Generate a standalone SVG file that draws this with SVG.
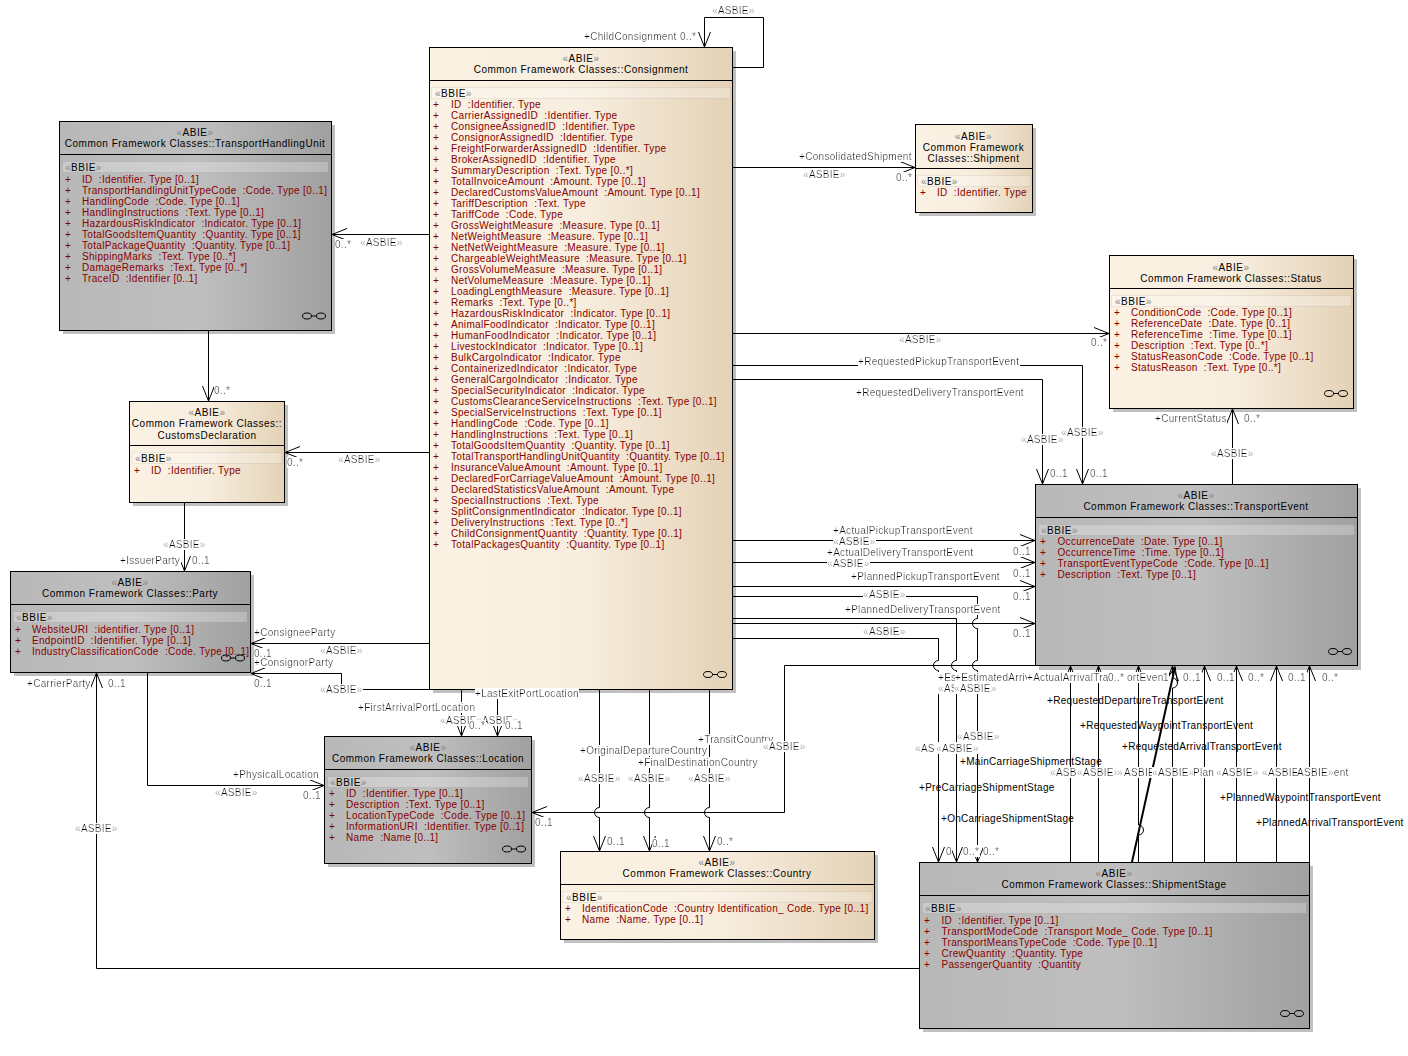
<svg xmlns="http://www.w3.org/2000/svg" width="1408" height="1056" viewBox="0 0 1408 1056">
<style>
text{font-family:"Liberation Sans",Arial,sans-serif;font-size:10px;letter-spacing:.5px;white-space:pre;fill:#000}
.a{fill:#860000;letter-spacing:.32px}
.q{fill:#a8a8a8}
g[id^=n-] .q{fill:#858585}
.c{text-anchor:middle}
.l{filter:url(#bg)}
#labels text,#labels2 text{letter-spacing:.3px}
.tan{fill:url(#gt);stroke:#000}
.gry{fill:url(#gg);stroke:#000}
.sh{fill:#c0c0c0}
.hl{stroke:#000;fill:none}
.bt{fill:#fff;fill-opacity:.25;stroke:#000;stroke-opacity:.06}
#conn path,#conn2 path{fill:none;stroke:#000;stroke-width:1}
#conn path.h,#conn2 path.h{marker-end:url(#v)}
#conn2 path.b{stroke-width:2}
</style>
<defs>
<linearGradient id="gt" x1="0" y1="0" x2="1" y2="0"><stop offset="0" stop-color="#fbf2e4"/><stop offset=".5" stop-color="#f8eedf"/><stop offset="1" stop-color="#e4d2b6"/></linearGradient>
<linearGradient id="gg" x1="0" y1="0" x2="1" y2="0"><stop offset="0" stop-color="#b8b8b8"/><stop offset=".5" stop-color="#bfbfbf"/><stop offset="1" stop-color="#a0a0a0"/></linearGradient>
<filter id="bg" x="0" y="0" width="1" height="1"><feFlood flood-color="#fff"/><feComposite in="SourceGraphic"/></filter>
<marker id="v" markerUnits="userSpaceOnUse" markerWidth="18" markerHeight="16" refX="15" refY="8" orient="auto"><path d="M0,2 L15,8 L0,14" fill="none" stroke="#000"/></marker>
<g id="gl" fill="none" stroke="#000"><ellipse cx="5" cy="0" rx="4.5" ry="3"/><ellipse cx="19" cy="0" rx="4.5" ry="3"/><path d="M9.5,0H14.5"/></g>
</defs>
<rect width="1408" height="1056" fill="#fff"/>

<g id="n-consignment">
<rect class="sh" x="433" y="51" width="303" height="642"/><rect class="tan" x="429.5" y="47.5" width="303" height="642"/><path class="hl" d="M429.5,80.5H732.5"/>
<text class="c" x="581" y="62"><tspan class="q">«</tspan>ABIE<tspan class="q">»</tspan></text><text class="c" x="581" y="73">Common Framework Classes::Consignment</text>
<rect class="bt" x="431.5" y="87.5" width="299" height="11"/><text x="435" y="97"><tspan class="q">«</tspan>BBIE<tspan class="q">»</tspan></text>
<text class="a" x="433" y="108">+</text><text class="a" x="451" y="108">ID  :Identifier. Type</text>
<text class="a" x="433" y="119">+</text><text class="a" x="451" y="119">CarrierAssignedID  :Identifier. Type</text>
<text class="a" x="433" y="130">+</text><text class="a" x="451" y="130">ConsigneeAssignedID  :Identifier. Type</text>
<text class="a" x="433" y="141">+</text><text class="a" x="451" y="141">ConsignorAssignedID  :Identifier. Type</text>
<text class="a" x="433" y="152">+</text><text class="a" x="451" y="152">FreightForwarderAssignedID  :Identifier. Type</text>
<text class="a" x="433" y="163">+</text><text class="a" x="451" y="163">BrokerAssignedID  :Identifier. Type</text>
<text class="a" x="433" y="174">+</text><text class="a" x="451" y="174">SummaryDescription  :Text. Type [0..*]</text>
<text class="a" x="433" y="185">+</text><text class="a" x="451" y="185">TotalInvoiceAmount  :Amount. Type [0..1]</text>
<text class="a" x="433" y="196">+</text><text class="a" x="451" y="196">DeclaredCustomsValueAmount  :Amount. Type [0..1]</text>
<text class="a" x="433" y="207">+</text><text class="a" x="451" y="207">TariffDescription  :Text. Type</text>
<text class="a" x="433" y="218">+</text><text class="a" x="451" y="218">TariffCode  :Code. Type</text>
<text class="a" x="433" y="229">+</text><text class="a" x="451" y="229">GrossWeightMeasure  :Measure. Type [0..1]</text>
<text class="a" x="433" y="240">+</text><text class="a" x="451" y="240">NetWeightMeasure  :Measure. Type [0..1]</text>
<text class="a" x="433" y="251">+</text><text class="a" x="451" y="251">NetNetWeightMeasure  :Measure. Type [0..1]</text>
<text class="a" x="433" y="262">+</text><text class="a" x="451" y="262">ChargeableWeightMeasure  :Measure. Type [0..1]</text>
<text class="a" x="433" y="273">+</text><text class="a" x="451" y="273">GrossVolumeMeasure  :Measure. Type [0..1]</text>
<text class="a" x="433" y="284">+</text><text class="a" x="451" y="284">NetVolumeMeasure  :Measure. Type [0..1]</text>
<text class="a" x="433" y="295">+</text><text class="a" x="451" y="295">LoadingLengthMeasure  :Measure. Type [0..1]</text>
<text class="a" x="433" y="306">+</text><text class="a" x="451" y="306">Remarks  :Text. Type [0..*]</text>
<text class="a" x="433" y="317">+</text><text class="a" x="451" y="317">HazardousRiskIndicator  :Indicator. Type [0..1]</text>
<text class="a" x="433" y="328">+</text><text class="a" x="451" y="328">AnimalFoodIndicator  :Indicator. Type [0..1]</text>
<text class="a" x="433" y="339">+</text><text class="a" x="451" y="339">HumanFoodIndicator  :Indicator. Type [0..1]</text>
<text class="a" x="433" y="350">+</text><text class="a" x="451" y="350">LivestockIndicator  :Indicator. Type [0..1]</text>
<text class="a" x="433" y="361">+</text><text class="a" x="451" y="361">BulkCargoIndicator  :Indicator. Type</text>
<text class="a" x="433" y="372">+</text><text class="a" x="451" y="372">ContainerizedIndicator  :Indicator. Type</text>
<text class="a" x="433" y="383">+</text><text class="a" x="451" y="383">GeneralCargoIndicator  :Indicator. Type</text>
<text class="a" x="433" y="394">+</text><text class="a" x="451" y="394">SpecialSecurityIndicator  :Indicator. Type</text>
<text class="a" x="433" y="405">+</text><text class="a" x="451" y="405">CustomsClearanceServiceInstructions  :Text. Type [0..1]</text>
<text class="a" x="433" y="416">+</text><text class="a" x="451" y="416">SpecialServiceInstructions  :Text. Type [0..1]</text>
<text class="a" x="433" y="427">+</text><text class="a" x="451" y="427">HandlingCode  :Code. Type [0..1]</text>
<text class="a" x="433" y="438">+</text><text class="a" x="451" y="438">HandlingInstructions  :Text. Type [0..1]</text>
<text class="a" x="433" y="449">+</text><text class="a" x="451" y="449">TotalGoodsItemQuantity  :Quantity. Type [0..1]</text>
<text class="a" x="433" y="460">+</text><text class="a" x="451" y="460">TotalTransportHandlingUnitQuantity  :Quantity. Type [0..1]</text>
<text class="a" x="433" y="471">+</text><text class="a" x="451" y="471">InsuranceValueAmount  :Amount. Type [0..1]</text>
<text class="a" x="433" y="482">+</text><text class="a" x="451" y="482">DeclaredForCarriageValueAmount  :Amount. Type [0..1]</text>
<text class="a" x="433" y="493">+</text><text class="a" x="451" y="493">DeclaredStatisticsValueAmount  :Amount. Type</text>
<text class="a" x="433" y="504">+</text><text class="a" x="451" y="504">SpecialInstructions  :Text. Type</text>
<text class="a" x="433" y="515">+</text><text class="a" x="451" y="515">SplitConsignmentIndicator  :Indicator. Type [0..1]</text>
<text class="a" x="433" y="526">+</text><text class="a" x="451" y="526">DeliveryInstructions  :Text. Type [0..*]</text>
<text class="a" x="433" y="537">+</text><text class="a" x="451" y="537">ChildConsignmentQuantity  :Quantity. Type [0..1]</text>
<text class="a" x="433" y="548">+</text><text class="a" x="451" y="548">TotalPackagesQuantity  :Quantity. Type [0..1]</text>
<use href="#gl" x="703" y="674.5"/>
</g>

<g id="n-shipment">
<rect class="sh" x="919" y="128" width="117" height="88"/><rect class="tan" x="915.5" y="124.5" width="117" height="88"/><path class="hl" d="M915.5,168.5H1032.5"/>
<text class="c" x="973.5" y="139.5"><tspan class="q">«</tspan>ABIE<tspan class="q">»</tspan></text><text class="c" x="973.5" y="150.5">Common Framework</text><text class="c" x="973.5" y="161.5">Classes::Shipment</text>
<rect class="bt" x="917.5" y="175.5" width="113" height="11"/><text x="921" y="185"><tspan class="q">«</tspan>BBIE<tspan class="q">»</tspan></text>
<text class="a" x="920" y="196">+</text><text class="a" x="937" y="196">ID  :Identifier. Type</text>
</g>

<g id="n-status">
<rect class="sh" x="1113" y="259" width="244" height="153"/><rect class="tan" x="1109.5" y="255.5" width="244" height="153"/><path class="hl" d="M1109.5,288.5H1353.5"/>
<text class="c" x="1231" y="271"><tspan class="q">«</tspan>ABIE<tspan class="q">»</tspan></text><text class="c" x="1231" y="282">Common Framework Classes::Status</text>
<rect class="bt" x="1111.5" y="295.5" width="240" height="11"/><text x="1115" y="305"><tspan class="q">«</tspan>BBIE<tspan class="q">»</tspan></text>
<text class="a" x="1114" y="316">+</text><text class="a" x="1131" y="316">ConditionCode  :Code. Type [0..1]</text>
<text class="a" x="1114" y="327">+</text><text class="a" x="1131" y="327">ReferenceDate  :Date. Type [0..1]</text>
<text class="a" x="1114" y="338">+</text><text class="a" x="1131" y="338">ReferenceTime  :Time. Type [0..1]</text>
<text class="a" x="1114" y="349">+</text><text class="a" x="1131" y="349">Description  :Text. Type [0..*]</text>
<text class="a" x="1114" y="360">+</text><text class="a" x="1131" y="360">StatusReasonCode  :Code. Type [0..1]</text>
<text class="a" x="1114" y="371">+</text><text class="a" x="1131" y="371">StatusReason  :Text. Type [0..*]</text>
<use href="#gl" x="1324" y="393.5"/>
</g>

<g id="n-transporthandlingunit">
<rect class="sh" x="63" y="125" width="272" height="209"/><rect class="gry" x="59.5" y="121.5" width="272" height="209"/><path class="hl" d="M59.5,154.5H331.5"/>
<text class="c" x="195" y="136"><tspan class="q">«</tspan>ABIE<tspan class="q">»</tspan></text><text class="c" x="195" y="147">Common Framework Classes::TransportHandlingUnit</text>
<rect class="bt" x="62.5" y="161.5" width="266" height="11"/><text x="65" y="171"><tspan class="q">«</tspan>BBIE<tspan class="q">»</tspan></text>
<text class="a" x="65" y="182.5">+</text><text class="a" x="82" y="182.5">ID  :Identifier. Type [0..1]</text>
<text class="a" x="65" y="193.5">+</text><text class="a" x="82" y="193.5">TransportHandlingUnitTypeCode  :Code. Type [0..1]</text>
<text class="a" x="65" y="204.5">+</text><text class="a" x="82" y="204.5">HandlingCode  :Code. Type [0..1]</text>
<text class="a" x="65" y="215.5">+</text><text class="a" x="82" y="215.5">HandlingInstructions  :Text. Type [0..1]</text>
<text class="a" x="65" y="226.5">+</text><text class="a" x="82" y="226.5">HazardousRiskIndicator  :Indicator. Type [0..1]</text>
<text class="a" x="65" y="237.5">+</text><text class="a" x="82" y="237.5">TotalGoodsItemQuantity  :Quantity. Type [0..1]</text>
<text class="a" x="65" y="248.5">+</text><text class="a" x="82" y="248.5">TotalPackageQuantity  :Quantity. Type [0..1]</text>
<text class="a" x="65" y="259.5">+</text><text class="a" x="82" y="259.5">ShippingMarks  :Text. Type [0..*]</text>
<text class="a" x="65" y="270.5">+</text><text class="a" x="82" y="270.5">DamageRemarks  :Text. Type [0..*]</text>
<text class="a" x="65" y="281.5">+</text><text class="a" x="82" y="281.5">TraceID  :Identifier [0..1]</text>
<use href="#gl" x="302" y="316"/>
</g>

<g id="n-customsdeclaration">
<rect class="sh" x="133" y="405" width="155" height="101"/><rect class="tan" x="129.5" y="401.5" width="155" height="101"/><path class="hl" d="M129.5,445.5H284.5"/>
<text class="c" x="207" y="416"><tspan class="q">«</tspan>ABIE<tspan class="q">»</tspan></text><text class="c" x="207" y="427">Common Framework Classes::</text><text class="c" x="207" y="438.5">CustomsDeclaration</text>
<rect class="bt" x="132" y="452.5" width="150" height="11"/><text x="135" y="462"><tspan class="q">«</tspan>BBIE<tspan class="q">»</tspan></text>
<text class="a" x="134" y="473.5">+</text><text class="a" x="151" y="473.5">ID  :Identifier. Type</text>
</g>

<g id="n-party">
<rect class="sh" x="14" y="575" width="240" height="101"/><rect class="gry" x="10.5" y="571.5" width="240" height="101"/><path class="hl" d="M10.5,604.5H250.5"/>
<text class="c" x="130" y="586"><tspan class="q">«</tspan>ABIE<tspan class="q">»</tspan></text><text class="c" x="130" y="597">Common Framework Classes::Party</text>
<rect class="bt" x="13.5" y="611.5" width="234" height="11"/><text x="16" y="621"><tspan class="q">«</tspan>BBIE<tspan class="q">»</tspan></text>
<text class="a" x="15" y="632.5">+</text><text class="a" x="32" y="632.5">WebsiteURI  :identifier. Type [0..1]</text>
<text class="a" x="15" y="643.5">+</text><text class="a" x="32" y="643.5">EndpointID  :Identifier. Type [0..1]</text>
<text class="a" x="15" y="654.5">+</text><text class="a" x="32" y="654.5">IndustryClassificationCode  :Code. Type [0..1]</text>
<use href="#gl" x="221" y="658"/>
</g>

<g id="n-location">
<rect class="sh" x="328" y="740" width="207" height="127"/><rect class="gry" x="324.5" y="736.5" width="207" height="127"/><path class="hl" d="M324.5,769.5H531.5"/>
<text class="c" x="428" y="751"><tspan class="q">«</tspan>ABIE<tspan class="q">»</tspan></text><text class="c" x="428" y="762">Common Framework Classes::Location</text>
<rect class="bt" x="327.5" y="776.5" width="201" height="11"/><text x="330" y="786"><tspan class="q">«</tspan>BBIE<tspan class="q">»</tspan></text>
<text class="a" x="329" y="797">+</text><text class="a" x="346" y="797">ID  :Identifier. Type [0..1]</text>
<text class="a" x="329" y="808">+</text><text class="a" x="346" y="808">Description  :Text. Type [0..1]</text>
<text class="a" x="329" y="819">+</text><text class="a" x="346" y="819">LocationTypeCode  :Code. Type [0..1]</text>
<text class="a" x="329" y="830">+</text><text class="a" x="346" y="830">InformationURI  :Identifier. Type [0..1]</text>
<text class="a" x="329" y="841">+</text><text class="a" x="346" y="841">Name  :Name [0..1]</text>
<use href="#gl" x="502" y="849"/>
</g>

<g id="n-country">
<rect class="sh" x="564" y="855" width="314" height="88"/><rect class="tan" x="560.5" y="851.5" width="314" height="88"/><path class="hl" d="M560.5,884.5H874.5"/>
<text class="c" x="717" y="866"><tspan class="q">«</tspan>ABIE<tspan class="q">»</tspan></text><text class="c" x="717" y="877">Common Framework Classes::Country</text>
<rect class="bt" x="563" y="891.5" width="309" height="11"/><text x="566" y="901"><tspan class="q">«</tspan>BBIE<tspan class="q">»</tspan></text>
<text class="a" x="565" y="912">+</text><text class="a" x="582" y="912">IdentificationCode  :Country Identification_ Code. Type [0..1]</text>
<text class="a" x="565" y="923">+</text><text class="a" x="582" y="923">Name  :Name. Type [0..1]</text>
</g>

<g id="n-transportevent">
<rect class="sh" x="1039" y="488" width="322" height="182"/><rect class="gry" x="1035.5" y="484.5" width="322" height="181"/><path class="hl" d="M1035.5,517.5H1357.5"/>
<text class="c" x="1196" y="499"><tspan class="q">«</tspan>ABIE<tspan class="q">»</tspan></text><text class="c" x="1196" y="510">Common Framework Classes::TransportEvent</text>
<rect class="bt" x="1038.5" y="524.5" width="316" height="11"/><text x="1041" y="534"><tspan class="q">«</tspan>BBIE<tspan class="q">»</tspan></text>
<text class="a" x="1040" y="545">+</text><text class="a" x="1057.5" y="545">OccurrenceDate  :Date. Type [0..1]</text>
<text class="a" x="1040" y="556">+</text><text class="a" x="1057.5" y="556">OccurrenceTime  :Time. Type [0..1]</text>
<text class="a" x="1040" y="567">+</text><text class="a" x="1057.5" y="567">TransportEventTypeCode  :Code. Type [0..1]</text>
<text class="a" x="1040" y="578">+</text><text class="a" x="1057.5" y="578">Description  :Text. Type [0..1]</text>
<use href="#gl" x="1328" y="651.5"/>
</g>

<g id="n-shipmentstage">
<rect class="sh" x="923" y="866" width="390" height="166"/><rect class="gry" x="919.5" y="862.5" width="390" height="166"/><path class="hl" d="M919.5,895.5H1309.5"/>
<text class="c" x="1114" y="877"><tspan class="q">«</tspan>ABIE<tspan class="q">»</tspan></text><text class="c" x="1114" y="888">Common Framework Classes::ShipmentStage</text>
<rect class="bt" x="922.5" y="902.5" width="384" height="11"/><text x="925" y="912"><tspan class="q">«</tspan>BBIE<tspan class="q">»</tspan></text>
<text class="a" x="924" y="923.5">+</text><text class="a" x="941.5" y="923.5">ID  :Identifier. Type [0..1]</text>
<text class="a" x="924" y="934.5">+</text><text class="a" x="941.5" y="934.5">TransportModeCode  :Transport Mode_ Code. Type [0..1]</text>
<text class="a" x="924" y="945.5">+</text><text class="a" x="941.5" y="945.5">TransportMeansTypeCode  :Code. Type [0..1]</text>
<text class="a" x="924" y="956.5">+</text><text class="a" x="941.5" y="956.5">CrewQuantity  :Quantity. Type</text>
<text class="a" x="924" y="967.5">+</text><text class="a" x="941.5" y="967.5">PassengerQuantity  :Quantity</text>
<use href="#gl" x="1280" y="1013.5"/>
</g>

<g id="conn">
<path class="h" d="M733,67.5H763.5V17.5H704.5V47"/>
<path class="h" d="M733,167.5H915"/>
<path class="h" d="M430,234.5H332"/>
<path class="h" d="M733,333.5H1109"/>
<path class="h" d="M733,365.5H1082.5V484"/>
<path class="h" d="M733,379.5H1042.5V484"/>
<path class="h" d="M430,452.5H285"/>
<path class="h" d="M208.5,331V401"/>
<path class="h" d="M184.5,503V571"/>
<path class="h" d="M1232.5,484V409"/>
<path class="h" d="M430,643.5H251"/>
<path class="h" d="M430,689.5H341.5V673.5H251"/>
<path class="h" d="M919,968.5H96.5V673"/>
<path class="h" d="M147.5,673V785.5H324"/>
<path class="h" d="M461.5,690V736"/>
<path class="h" d="M497.5,690V736"/>
<path class="h" d="M733,540.5H1035"/>
<path class="h" d="M733,562.5H1035"/>
<path class="h" d="M733,586.5H1035"/>
<path class="h" d="M733,623.5H1035"/>
<path class="h" d="M1035,665.5H784.5V812.5H532"/>
<path class="h" d="M599.5,690V807.5a5,5 0 0 0 0,10V851"/>
<path class="h" d="M649.5,690V807.5a5,5 0 0 0 0,10V851"/>
<path class="h" d="M709.5,690V807.5a5,5 0 0 0 0,10V851"/>
<path class="h" d="M733,638.5H938.5V660.5a5,5 0 0 0 0,10V862"/>
<path class="h" d="M733,618.5H956.5V660.5a5,5 0 0 0 0,10V862"/>
<path class="h" d="M733,596.5H977.5V618.5a5,5 0 0 0 0,10V660.5a5,5 0 0 0 0,10V862"/>
</g>

<g id="labels">
<text class="l" x="584" y="40">+ChildConsignment</text><text class="l" x="680" y="40">0..*</text>
<text class="l" x="712" y="14"><tspan class="q">«</tspan>ASBIE<tspan class="q">»</tspan></text>
<text class="l" x="799" y="160">+ConsolidatedShipment</text><text class="l" x="803" y="178"><tspan class="q">«</tspan>ASBIE<tspan class="q">»</tspan></text><text class="l" x="896" y="181">0..*</text>
<text class="l" x="360" y="246"><tspan class="q">«</tspan>ASBIE<tspan class="q">»</tspan></text><text class="l" x="335" y="248">0..*</text>
<text class="l" x="899" y="343"><tspan class="q">«</tspan>ASBIE<tspan class="q">»</tspan></text><text class="l" x="1091" y="346">0..*</text>
<text class="l" x="858" y="365">+RequestedPickupTransportEvent</text>
<text class="l" x="856" y="396">+RequestedDeliveryTransportEvent</text>
<text class="l" x="1021" y="443"><tspan class="q">«</tspan>ASBIE<tspan class="q">»</tspan></text><text class="l" x="1061" y="436"><tspan class="q">«</tspan>ASBIE<tspan class="q">»</tspan></text>
<text class="l" x="1050" y="477">0..1</text><text class="l" x="1090" y="477">0..1</text>
<text class="l" x="338" y="463"><tspan class="q">«</tspan>ASBIE<tspan class="q">»</tspan></text><text class="l" x="287" y="466">0..*</text>
<text class="l" x="214" y="394">0..*</text>
<text class="l" x="163" y="548"><tspan class="q">«</tspan>ASBIE<tspan class="q">»</tspan></text><text class="l" x="120" y="564">+IssuerParty</text><text class="l" x="192" y="564">0..1</text>
<text class="l" x="1155" y="422">+CurrentStatus</text><text class="l" x="1244" y="422">0..*</text><text class="l" x="1211" y="457"><tspan class="q">«</tspan>ASBIE<tspan class="q">»</tspan></text>
<text class="l" x="833" y="533.5">+ActualPickupTransportEvent</text><text class="l" x="833" y="544.5"><tspan class="q">«</tspan>ASBIE<tspan class="q">»</tspan></text>
<text class="l" x="827" y="555.5">+ActualDeliveryTransportEvent</text><text class="l" x="827" y="566.5"><tspan class="q">«</tspan>ASBIE<tspan class="q">»</tspan></text>
<text class="l" x="851" y="580">+PlannedPickupTransportEvent</text><text class="l" x="863" y="597.5"><tspan class="q">«</tspan>ASBIE<tspan class="q">»</tspan></text>
<text class="l" x="845" y="613">+PlannedDeliveryTransportEvent</text><text class="l" x="863" y="634.5"><tspan class="q">«</tspan>ASBIE<tspan class="q">»</tspan></text>
<text class="l" x="1013" y="555">0..1</text><text class="l" x="1013" y="577">0..1</text><text class="l" x="1013" y="600">0..1</text><text class="l" x="1013" y="637">0..1</text>
<text class="l" x="254" y="636">+ConsigneeParty</text><text class="l" x="320" y="654"><tspan class="q">«</tspan>ASBIE<tspan class="q">»</tspan></text><text class="l" x="254" y="657">0..1</text>
<text class="l" x="254" y="666">+ConsignorParty</text><text class="l" x="254" y="687">0..1</text><text class="l" x="320" y="693"><tspan class="q">«</tspan>ASBIE<tspan class="q">»</tspan></text>
<text class="l" x="358" y="711">+FirstArrivalPortLocation</text>
<text class="l" x="27" y="687">+CarrierParty</text><text class="l" x="108" y="687">0..1</text>
<text class="l" x="233" y="778">+PhysicalLocation</text><text class="l" x="215" y="796"><tspan class="q">«</tspan>ASBIE<tspan class="q">»</tspan></text><text class="l" x="303" y="799">0..1</text>
<text class="l" x="75" y="832"><tspan class="q">«</tspan>ASBIE<tspan class="q">»</tspan></text>
<text class="l" x="475" y="697">+LastExitPortLocation</text>
<text class="l" x="440" y="724"><tspan class="q">«</tspan>ASBIE<tspan class="q">»</tspan></text><text class="l" x="476" y="724"><tspan class="q">«</tspan>ASBIE<tspan class="q">»</tspan></text>
<text class="l" x="469" y="729">0..*</text><text class="l" x="505" y="729">0..1</text>
<text class="l" x="698" y="743">+TransitCountry</text><text class="l" x="580" y="754">+OriginalDepartureCountry</text><text class="l" x="638" y="766">+FinalDestinationCountry</text>
<text class="l" x="763" y="750"><tspan class="q">«</tspan>ASBIE<tspan class="q">»</tspan></text>
<text class="l" x="578" y="782"><tspan class="q">«</tspan>ASBIE<tspan class="q">»</tspan></text><text class="l" x="628" y="782"><tspan class="q">«</tspan>ASBIE<tspan class="q">»</tspan></text><text class="l" x="688" y="782"><tspan class="q">«</tspan>ASBIE<tspan class="q">»</tspan></text>
<text class="l" x="607" y="845">0..1</text><text class="l" x="652" y="847">0..1</text><text class="l" x="717" y="845">0..*</text><text class="l" x="535" y="826">0..1</text>
</g>

<g id="conn2">
<path class="h" d="M1070.5,862V666"/>
<path class="h" d="M1098.5,862V666"/>
<path class="h" d="M1138.5,862V835a5,5 0 0 0 0,-10V666"/>
<path class="h" d="M1172.5,862V688a5,5 0 0 0 0,-10V666"/>
<path class="h" d="M1204.5,862V666"/>
<path class="h" d="M1236.5,862V666"/>
<path class="h" d="M1276.5,862V666"/>
<path class="h" d="M1309.5,862V666"/>
<path class="h b" d="M1132,862L1175,667"/>
</g>

<g id="labels2">
<text x="1047" y="704">+RequestedDepartureTransportEvent</text>
<text x="1080" y="728.5">+RequestedWaypointTransportEvent</text>
<text x="1122" y="750">+RequestedArrivalTransportEvent</text>
<text x="960" y="764.5">+MainCarriageShipmentStage</text>
<text x="919" y="791">+PreCarriageShipmentStage</text>
<text x="1220" y="801">+PlannedWaypointTransportEvent</text>
<text x="941" y="822">+OnCarriageShipmentStage</text>
<text x="1256" y="826">+PlannedArrivalTransportEvent</text>
<text class="l" x="938" y="681">+Es</text><text class="l" x="955" y="681">+EstimatedArriv</text><text class="l" x="1027" y="681">+ActualArrivalTra</text><text class="l" x="1108" y="681">0..*</text><text class="l" x="1127" y="681">ortEvent</text><text class="l" x="1163" y="681">1</text>
<text class="l" x="1183" y="681">0..1</text><text class="l" x="1217" y="681">0..1</text><text class="l" x="1248" y="681">0..*</text><text class="l" x="1288" y="681">0..1</text><text class="l" x="1322" y="681">0..*</text>
<text class="l" x="915" y="751.5"><tspan class="q">«</tspan>AS</text><text class="l" x="936" y="751.5"><tspan class="q">«</tspan>ASBIE<tspan class="q">»</tspan></text>
<text class="l" x="957" y="740"><tspan class="q">«</tspan>ASBIE<tspan class="q">»</tspan></text>
<text class="l" x="938" y="692"><tspan class="q">«</tspan>AS</text><text class="l" x="954" y="692"><tspan class="q">«</tspan>ASBIE<tspan class="q">»</tspan></text>
<text class="l" x="1050" y="776"><tspan class="q">«</tspan>ASB</text><text class="l" x="1077" y="776"><tspan class="q">«</tspan>ASBIE<tspan class="q">»</tspan></text><text class="l" x="1117" y="776"><tspan class="q">»</tspan></text><text class="l" x="1124" y="776">ASBIE</text><text class="l" x="1152" y="776"><tspan class="q">«</tspan>ASBIE<tspan class="q">»</tspan></text><text class="l" x="1193" y="776">Plan</text><text class="l" x="1216" y="776"><tspan class="q">«</tspan>ASBIE<tspan class="q">»</tspan></text><text class="l" x="1262" y="776"><tspan class="q">«</tspan>ASBIE<tspan class="q">»</tspan></text><text class="l" x="1297" y="776">ASBIE<tspan class="q">»</tspan>ent</text>
<text class="l" x="946" y="854.5">0</text><text class="l" x="963" y="854.5">0..*</text><text class="l" x="983" y="854.5">0..*</text>
</g>
</svg>
